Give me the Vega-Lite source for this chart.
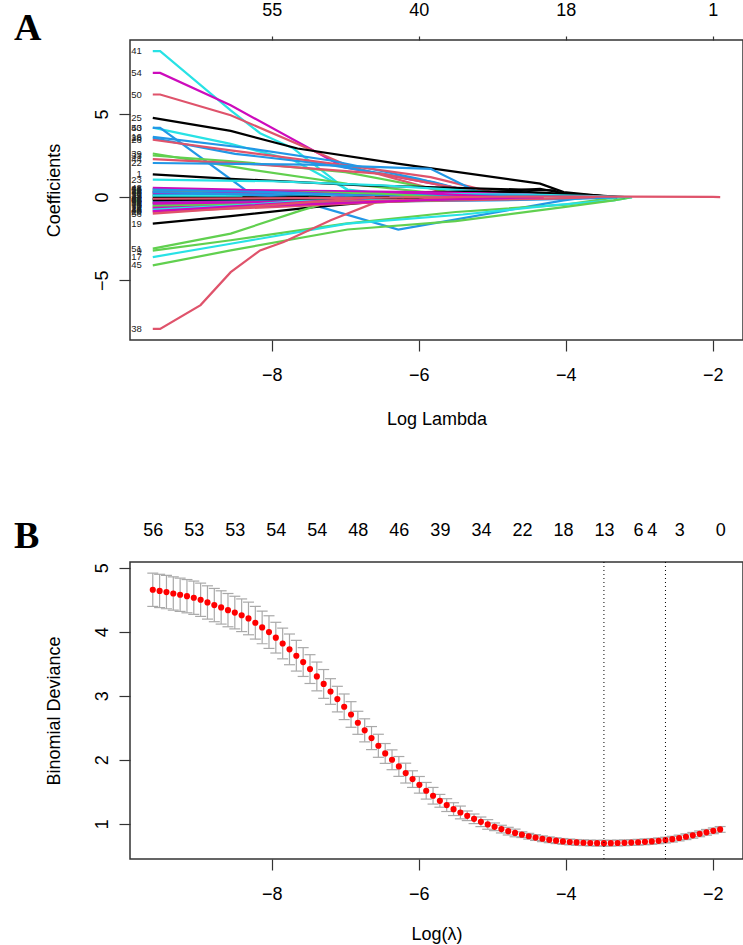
{
  "$schema": "https://vega.github.io/schema/vega-lite/v6.json",
  "background": "white",
  "padding": {"left": 13, "top": 0, "right": 0, "bottom": 0},
  "bounds": "flush",
  "spacing": 222,
  "config": {
    "font": "Liberation Sans",
    "view": {"stroke": "#333333", "strokeWidth": 1.5},
    "axis": {
      "grid": false, "domain": false,
      "tickColor": "#333333", "tickWidth": 1.2,
      "labelFont": "Liberation Sans", "labelFontSize": 18, "labelColor": "#000000",
      "titleFont": "Liberation Sans", "titleFontSize": 18, "titleFontWeight": "normal", "titleColor": "#000000",
      "labelOverlap": false, "labelFlush": false, "labelBound": false
    },
    "title": {"font": "Liberation Serif", "fontSize": 38, "fontWeight": "bold", "color": "#000000", "anchor": "start", "frame": "group"}
  },
  "vconcat": [
    {
      "width": 613,
      "height": 300,
      "title": {"text": "A", "dx": -116, "offset": -47},
      "data": {"values": [
        {"v":41,"x":-9.62,"c":8.78},{"v":41,"x":-9.52,"c":8.78},{"v":41,"x":-8.56,"c":5.22},{"v":41,"x":-8.16,"c":3.84},{"v":41,"x":-7.71,"c":2.93},{"v":41,"x":-6.97,"c":0.4},{"v":41,"x":-6.4,"c":0.15},{"v":41,"x":-5.6,"c":0},
        {"v":54,"x":-9.62,"c":7.47},{"v":54,"x":-9.52,"c":7.47},{"v":54,"x":-8.56,"c":5.52},{"v":54,"x":-7.02,"c":1.79},{"v":54,"x":-5.16,"c":0.28},{"v":54,"x":-4.9,"c":0},
        {"v":50,"x":-9.62,"c":6.17},{"v":50,"x":-9.52,"c":6.17},{"v":50,"x":-8.56,"c":4.92},{"v":50,"x":-6.97,"c":1.9},{"v":50,"x":-5.75,"c":0.4},{"v":50,"x":-5.3,"c":0},
        {"v":25,"x":-9.62,"c":4.76},{"v":25,"x":-8.56,"c":3.98},{"v":25,"x":-7.65,"c":2.92},{"v":25,"x":-6.29,"c":2.01},{"v":25,"x":-4.35,"c":0.81},{"v":25,"x":-4.03,"c":0.3},{"v":25,"x":-3.35,"c":0},
        {"v":53,"x":-9.62,"c":4.18},{"v":53,"x":-8.56,"c":3.2},{"v":53,"x":-7.7,"c":2.2},{"v":53,"x":-6.97,"c":0.45},{"v":53,"x":-6.3,"c":0.12},{"v":53,"x":-5.8,"c":0},
        {"v":40,"x":-9.62,"c":4.16},{"v":40,"x":-9.52,"c":4.16},{"v":40,"x":-8.29,"c":0.2},{"v":40,"x":-7.65,"c":-0.2},{"v":40,"x":-6.28,"c":-1.96},{"v":40,"x":-4.03,"c":-0.2},{"v":40,"x":-3.7,"c":0},
        {"v":16,"x":-9.62,"c":3.62},{"v":16,"x":-8.29,"c":2.92},{"v":16,"x":-7.2,"c":2.2},{"v":16,"x":-6.0,"c":1.1},{"v":16,"x":-5.3,"c":0.3},{"v":16,"x":-5.0,"c":0},
        {"v":28,"x":-9.62,"c":3.55},{"v":28,"x":-8.5,"c":2.6},{"v":28,"x":-7.3,"c":2.0},{"v":28,"x":-5.8,"c":0.9},{"v":28,"x":-5.2,"c":0.2},{"v":28,"x":-4.9,"c":0},
        {"v":26,"x":-9.62,"c":3.45},{"v":26,"x":-8.56,"c":2.81},{"v":26,"x":-6.97,"c":1.9},{"v":26,"x":-5.84,"c":1.2},{"v":26,"x":-5.0,"c":0.3},{"v":26,"x":-4.6,"c":0},
        {"v":39,"x":-9.62,"c":2.62},{"v":39,"x":-8.29,"c":1.65},{"v":39,"x":-6.97,"c":0.8},{"v":39,"x":-5.5,"c":0.1},{"v":39,"x":-5.2,"c":0},
        {"v":33,"x":-9.62,"c":2.5},{"v":33,"x":-8.4,"c":2.1},{"v":33,"x":-7.0,"c":1.5},{"v":33,"x":-5.8,"c":0.5},{"v":33,"x":-5.3,"c":0},
        {"v":44,"x":-9.62,"c":2.28},{"v":44,"x":-8.3,"c":2.0},{"v":44,"x":-6.5,"c":1.4},{"v":44,"x":-5.2,"c":0.3},{"v":44,"x":-4.8,"c":0},
        {"v":22,"x":-9.62,"c":2.05},{"v":22,"x":-7.5,"c":1.95},{"v":22,"x":-5.84,"c":1.7},{"v":22,"x":-5.2,"c":0.3},{"v":22,"x":-4.9,"c":0},
        {"v":1,"x":-9.62,"c":1.37},{"v":1,"x":-8.56,"c":1.1},{"v":1,"x":-6.75,"c":0.7},{"v":1,"x":-4.6,"c":0.45},{"v":1,"x":-4.17,"c":0.4},{"v":1,"x":-4.0,"c":0.1},{"v":1,"x":-3.8,"c":0},
        {"v":23,"x":-9.62,"c":1.05},{"v":23,"x":-8.0,"c":0.95},{"v":23,"x":-6.5,"c":0.7},{"v":23,"x":-5.0,"c":0.3},{"v":23,"x":-4.4,"c":0},
        {"v":19,"x":-9.62,"c":-1.6},{"v":19,"x":-8.56,"c":-1.15},{"v":19,"x":-7.43,"c":-0.6},{"v":19,"x":-6.5,"c":-0.25},{"v":19,"x":-5.5,"c":0},
        {"v":51,"x":-9.62,"c":-3.1},{"v":51,"x":-8.56,"c":-2.2},{"v":51,"x":-7.6,"c":-0.8},{"v":51,"x":-6.97,"c":0},
        {"v":9,"x":-9.62,"c":-3.22},{"v":9,"x":-8.56,"c":-2.6},{"v":9,"x":-7.0,"c":-1.6},{"v":9,"x":-5.5,"c":-0.9},{"v":9,"x":-4.0,"c":-0.45},{"v":9,"x":-3.3,"c":0},
        {"v":17,"x":-9.62,"c":-3.61},{"v":17,"x":-8.56,"c":-2.81},{"v":17,"x":-6.97,"c":-1.6},{"v":17,"x":-5.4,"c":-1.05},{"v":17,"x":-4.2,"c":-0.5},{"v":17,"x":-3.35,"c":-0.2},{"v":17,"x":-3.1,"c":0},
        {"v":45,"x":-9.62,"c":-4.11},{"v":45,"x":-8.56,"c":-3.21},{"v":45,"x":-6.97,"c":-1.95},{"v":45,"x":-5.5,"c":-1.45},{"v":45,"x":-4.03,"c":-0.6},{"v":45,"x":-3.35,"c":-0.2},{"v":45,"x":-3.1,"c":0},
        {"v":38,"x":-9.62,"c":-7.93},{"v":38,"x":-9.52,"c":-7.93},{"v":38,"x":-8.97,"c":-6.5},{"v":38,"x":-8.56,"c":-4.52},{"v":38,"x":-8.16,"c":-3.21},{"v":38,"x":-7.84,"c":-2.71},{"v":38,"x":-7.2,"c":-1.4},{"v":38,"x":-6.52,"c":-0.2},{"v":38,"x":-5.75,"c":0.3},{"v":38,"x":-5.0,"c":0.1},{"v":38,"x":-4.6,"c":0},
        {"v":7,"x":-9.62,"c":0.3},{"v":7,"x":-6.5,"c":0.25},{"v":7,"x":-5.4,"c":0.1},{"v":7,"x":-4.7,"c":0.4},{"v":7,"x":-4.35,"c":0.5},{"v":7,"x":-4.0,"c":0.2},{"v":7,"x":-3.3,"c":0},
        {"v":13,"x":-9.62,"c":0.05},{"v":13,"x":-7.5,"c":0.1},{"v":13,"x":-5.5,"c":0.15},{"v":13,"x":-4.5,"c":0.3},{"v":13,"x":-3.6,"c":0.1},{"v":13,"x":-3.2,"c":0},
        {"v":31,"x":-9.62,"c":-0.35},{"v":31,"x":-8,"c":-0.2},{"v":31,"x":-6,"c":-0.1},{"v":31,"x":-4.5,"c":0.1},{"v":31,"x":-3.9,"c":0.15},{"v":31,"x":-3.3,"c":0},
        {"v":37,"x":-9.62,"c":0.15},{"v":37,"x":-8,"c":0.2},{"v":37,"x":-6,"c":0.3},{"v":37,"x":-4.8,"c":0.35},{"v":37,"x":-4.2,"c":0.2},{"v":37,"x":-3.4,"c":0},
        {"v":6,"x":-9.62,"c":0.45},{"v":6,"x":-8,"c":0.4},{"v":6,"x":-6,"c":0.3},{"v":6,"x":-4.5,"c":0.15},{"v":6,"x":-3.9,"c":0},
        {"v":12,"x":-9.62,"c":0.35},{"v":12,"x":-7.5,"c":0.3},{"v":12,"x":-5.5,"c":0.25},{"v":12,"x":-4.3,"c":0.1},{"v":12,"x":-3.8,"c":0},
        {"v":5,"x":-9.62,"c":-0.25},{"v":5,"x":-7,"c":-0.2},{"v":5,"x":-5,"c":-0.15},{"v":5,"x":-3.6,"c":-0.05},{"v":5,"x":-3.2,"c":0},
        {"v":11,"x":-9.62,"c":0.1},{"v":11,"x":-6.5,"c":0.2},{"v":11,"x":-4.5,"c":0.15},{"v":11,"x":-3.5,"c":0.05},{"v":11,"x":-3.1,"c":0},
        {"v":10,"x":-9.62,"c":-0.45},{"v":10,"x":-7.5,"c":-0.3},{"v":10,"x":-5,"c":-0.2},{"v":10,"x":-3.8,"c":-0.1},{"v":10,"x":-3.3,"c":0},
        {"v":4,"x":-9.62,"c":0.2},{"v":4,"x":-7,"c":0.15},{"v":4,"x":-5,"c":0.1},{"v":4,"x":-3.9,"c":0.05},{"v":4,"x":-3.5,"c":0},
        {"v":2,"x":-9.62,"c":-0.6},{"v":2,"x":-7.5,"c":-0.35},{"v":2,"x":-5.5,"c":-0.2},{"v":2,"x":-4.2,"c":-0.1},{"v":2,"x":-3.6,"c":0},
        {"v":3,"x":-9.62,"c":-0.5},{"v":3,"x":-7.5,"c":-0.35},{"v":3,"x":-6,"c":-0.2},{"v":3,"x":-5.2,"c":0},
        {"v":8,"x":-9.62,"c":-0.8},{"v":8,"x":-8,"c":-0.5},{"v":8,"x":-6.5,"c":-0.3},{"v":8,"x":-5.0,"c":0},
        {"v":14,"x":-9.62,"c":-0.7},{"v":14,"x":-8,"c":-0.4},{"v":14,"x":-6,"c":-0.15},{"v":14,"x":-5.6,"c":0},
        {"v":15,"x":-9.62,"c":-0.55},{"v":15,"x":-8,"c":-0.45},{"v":15,"x":-6.5,"c":-0.3},{"v":15,"x":-4.6,"c":0},
        {"v":18,"x":-9.62,"c":0.25},{"v":18,"x":-8,"c":0.3},{"v":18,"x":-6,"c":0.25},{"v":18,"x":-4.9,"c":0},
        {"v":20,"x":-9.62,"c":-0.9},{"v":20,"x":-8,"c":-0.6},{"v":20,"x":-6,"c":-0.2},{"v":20,"x":-5.3,"c":0},
        {"v":21,"x":-9.62,"c":0.4},{"v":21,"x":-8,"c":0.35},{"v":21,"x":-6.5,"c":0.2},{"v":21,"x":-5.7,"c":0},
        {"v":24,"x":-9.62,"c":-0.65},{"v":24,"x":-8,"c":-0.5},{"v":24,"x":-6,"c":-0.2},{"v":24,"x":-4.3,"c":0},
        {"v":27,"x":-9.62,"c":-0.15},{"v":27,"x":-8.6,"c":-0.1},{"v":27,"x":-7.4,"c":0},
        {"v":29,"x":-9.62,"c":0.05},{"v":29,"x":-8.9,"c":0.02},{"v":29,"x":-8.4,"c":0},
        {"v":30,"x":-9.62,"c":-0.3},{"v":30,"x":-8.5,"c":-0.2},{"v":30,"x":-7.6,"c":0},
        {"v":34,"x":-9.62,"c":0.3},{"v":34,"x":-8.5,"c":0.2},{"v":34,"x":-7.8,"c":0},
        {"v":35,"x":-9.62,"c":0.5},{"v":35,"x":-8.2,"c":0.35},{"v":35,"x":-6.6,"c":0},
        {"v":36,"x":-9.62,"c":-0.4},{"v":36,"x":-8.2,"c":-0.3},{"v":36,"x":-7,"c":0},
        {"v":42,"x":-9.62,"c":0.55},{"v":42,"x":-8.5,"c":0.45},{"v":42,"x":-6.3,"c":0},
        {"v":43,"x":-9.62,"c":-0.05},{"v":43,"x":-8,"c":-0.05},{"v":43,"x":-7.2,"c":0},
        {"v":46,"x":-9.62,"c":-0.2},{"v":46,"x":-8,"c":-0.15},{"v":46,"x":-6.8,"c":0},
        {"v":47,"x":-9.62,"c":-0.75},{"v":47,"x":-8.3,"c":-0.45},{"v":47,"x":-6.9,"c":0},
        {"v":48,"x":-9.62,"c":-0.85},{"v":48,"x":-8.3,"c":-0.5},{"v":48,"x":-6.5,"c":0},
        {"v":49,"x":-9.62,"c":-0.1},{"v":49,"x":-8.5,"c":-0.1},{"v":49,"x":-7.5,"c":0},
        {"v":52,"x":-9.62,"c":0.45},{"v":52,"x":-8,"c":0.3},{"v":52,"x":-6.2,"c":0},
        {"v":55,"x":-9.62,"c":-0.18},{"v":55,"x":-8,"c":-0.12},{"v":55,"x":-6.4,"c":0},
        {"v":56,"x":-9.62,"c":-1.0},{"v":56,"x":-8.5,"c":-0.65},{"v":56,"x":-6.6,"c":0},
        {"v":32,"x":-9.62,"c":-0.1},{"v":32,"x":-7,"c":-0.05},{"v":32,"x":-5,"c":0.02},{"v":32,"x":-3.2,"c":0.03},{"v":32,"x":-2.0,"c":0.01},{"v":32,"x":-1.9,"c":0}
      ]},
      "layer": [
        {
          "mark": {"type": "line", "strokeWidth": 2.2},
          "encoding": {
            "x": {"field": "x", "type": "quantitative",
                  "scale": {"domain": [-9.93, -1.59], "nice": false, "zero": false},
                  "axis": {"orient": "bottom", "values": [-8, -6, -4, -2], "title": "Log Lambda", "tickSize": 11, "labelPadding": 15, "titleY": 70}},
            "y": {"field": "c", "type": "quantitative",
                  "scale": {"domain": [-8.6, 9.45], "nice": false, "zero": false},
                  "axis": {"values": [-5, 0, 5], "format": ".0f", "title": "Coefficients", "tickSize": 11, "labelAngle": -90, "labelAlign": "center", "labelBaseline": "bottom", "labelPadding": 8, "titleX": -67}},
            "color": {"field": "v", "type": "ordinal", "legend": null,
                      "scale": {
                        "domain": [1,2,3,4,5,6,7,8,9,10,11,12,13,14,15,16,17,18,19,20,21,22,23,24,25,26,27,28,29,30,31,32,33,34,35,36,37,38,39,40,41,42,43,44,45,46,47,48,49,50,51,52,53,54,55,56],
                        "range": ["#000000","#DF536B","#61D04F","#2297E6","#28E2E5","#CD0BBC","#000000","#DF536B","#61D04F","#2297E6","#28E2E5","#CD0BBC","#000000","#DF536B","#61D04F","#2297E6","#28E2E5","#CD0BBC","#000000","#DF536B","#61D04F","#2297E6","#28E2E5","#CD0BBC","#000000","#DF536B","#61D04F","#2297E6","#28E2E5","#CD0BBC","#000000","#DF536B","#61D04F","#2297E6","#28E2E5","#CD0BBC","#000000","#DF536B","#61D04F","#2297E6","#28E2E5","#CD0BBC","#000000","#DF536B","#61D04F","#2297E6","#28E2E5","#CD0BBC","#000000","#DF536B","#61D04F","#2297E6","#28E2E5","#CD0BBC","#000000","#DF536B"]
                      }}
          }
        },
        {
          "transform": [{"filter": "datum.x === -9.62"}],
          "mark": {"type": "text", "align": "right", "baseline": "middle", "dx": -11, "fontSize": 9.5, "font": "Liberation Sans", "color": "#222222"},
          "encoding": {
            "x": {"field": "x", "type": "quantitative",
                  "axis": {"orient": "top", "values": [-8, -6, -4, -2], "title": null, "tickSize": 4, "labelPadding": 17,
                           "labelExpr": "datum.value == -8 ? '55' : datum.value == -6 ? '40' : datum.value == -4 ? '18' : '1'"}},
            "y": {"field": "c", "type": "quantitative"},
            "text": {"field": "v"}
          }
        }
      ],
      "resolve": {"axis": {"x": "independent"}}
    },
    {
      "width": 613,
      "height": 297,
      "title": {"text": "B", "dx": -116, "offset": -35},
      "data": {"values": [
        {"x":-9.620,"m":4.656,"lo":4.396,"hi":4.916},
        {"x":-9.527,"m":4.638,"lo":4.378,"hi":4.898},
        {"x":-9.434,"m":4.620,"lo":4.360,"hi":4.880},
        {"x":-9.341,"m":4.598,"lo":4.338,"hi":4.858},
        {"x":-9.248,"m":4.578,"lo":4.318,"hi":4.838},
        {"x":-9.155,"m":4.556,"lo":4.296,"hi":4.816},
        {"x":-9.062,"m":4.532,"lo":4.272,"hi":4.792},
        {"x":-8.969,"m":4.500,"lo":4.240,"hi":4.760},
        {"x":-8.876,"m":4.458,"lo":4.198,"hi":4.718},
        {"x":-8.783,"m":4.417,"lo":4.157,"hi":4.677},
        {"x":-8.690,"m":4.380,"lo":4.120,"hi":4.640},
        {"x":-8.597,"m":4.338,"lo":4.078,"hi":4.598},
        {"x":-8.504,"m":4.300,"lo":4.045,"hi":4.555},
        {"x":-8.411,"m":4.258,"lo":4.003,"hi":4.513},
        {"x":-8.318,"m":4.208,"lo":3.953,"hi":4.463},
        {"x":-8.225,"m":4.141,"lo":3.886,"hi":4.396},
        {"x":-8.132,"m":4.068,"lo":3.813,"hi":4.323},
        {"x":-8.039,"m":3.995,"lo":3.740,"hi":4.250},
        {"x":-7.946,"m":3.908,"lo":3.668,"hi":4.148},
        {"x":-7.853,"m":3.817,"lo":3.577,"hi":4.057},
        {"x":-7.760,"m":3.725,"lo":3.485,"hi":3.965},
        {"x":-7.667,"m":3.626,"lo":3.386,"hi":3.866},
        {"x":-7.574,"m":3.527,"lo":3.302,"hi":3.752},
        {"x":-7.481,"m":3.417,"lo":3.192,"hi":3.642},
        {"x":-7.388,"m":3.302,"lo":3.077,"hi":3.527},
        {"x":-7.295,"m":3.185,"lo":2.960,"hi":3.410},
        {"x":-7.202,"m":3.067,"lo":2.867,"hi":3.267},
        {"x":-7.109,"m":2.948,"lo":2.748,"hi":3.148},
        {"x":-7.016,"m":2.828,"lo":2.628,"hi":3.028},
        {"x":-6.923,"m":2.708,"lo":2.508,"hi":2.908},
        {"x":-6.830,"m":2.578,"lo":2.398,"hi":2.758},
        {"x":-6.737,"m":2.460,"lo":2.280,"hi":2.640},
        {"x":-6.644,"m":2.339,"lo":2.159,"hi":2.519},
        {"x":-6.551,"m":2.219,"lo":2.039,"hi":2.399},
        {"x":-6.458,"m":2.099,"lo":1.944,"hi":2.254},
        {"x":-6.365,"m":2.000,"lo":1.845,"hi":2.155},
        {"x":-6.272,"m":1.896,"lo":1.741,"hi":2.051},
        {"x":-6.179,"m":1.792,"lo":1.637,"hi":1.947},
        {"x":-6.086,"m":1.698,"lo":1.568,"hi":1.828},
        {"x":-5.993,"m":1.609,"lo":1.479,"hi":1.739},
        {"x":-5.900,"m":1.516,"lo":1.386,"hi":1.646},
        {"x":-5.807,"m":1.438,"lo":1.308,"hi":1.568},
        {"x":-5.714,"m":1.359,"lo":1.259,"hi":1.459},
        {"x":-5.621,"m":1.292,"lo":1.192,"hi":1.392},
        {"x":-5.528,"m":1.229,"lo":1.129,"hi":1.329},
        {"x":-5.435,"m":1.177,"lo":1.077,"hi":1.277},
        {"x":-5.342,"m":1.125,"lo":1.050,"hi":1.200},
        {"x":-5.249,"m":1.078,"lo":1.003,"hi":1.153},
        {"x":-5.156,"m":1.031,"lo":0.956,"hi":1.106},
        {"x":-5.063,"m":0.990,"lo":0.915,"hi":1.065},
        {"x":-4.970,"m":0.953,"lo":0.893,"hi":1.013},
        {"x":-4.877,"m":0.917,"lo":0.857,"hi":0.977},
        {"x":-4.784,"m":0.885,"lo":0.825,"hi":0.945},
        {"x":-4.691,"m":0.857,"lo":0.797,"hi":0.917},
        {"x":-4.598,"m":0.830,"lo":0.785,"hi":0.875},
        {"x":-4.505,"m":0.806,"lo":0.761,"hi":0.851},
        {"x":-4.412,"m":0.785,"lo":0.740,"hi":0.830},
        {"x":-4.319,"m":0.766,"lo":0.721,"hi":0.811},
        {"x":-4.226,"m":0.750,"lo":0.705,"hi":0.795},
        {"x":-4.133,"m":0.736,"lo":0.691,"hi":0.781},
        {"x":-4.040,"m":0.725,"lo":0.680,"hi":0.770},
        {"x":-3.947,"m":0.716,"lo":0.671,"hi":0.761},
        {"x":-3.854,"m":0.709,"lo":0.664,"hi":0.754},
        {"x":-3.761,"m":0.704,"lo":0.659,"hi":0.749},
        {"x":-3.668,"m":0.700,"lo":0.655,"hi":0.745},
        {"x":-3.575,"m":0.698,"lo":0.653,"hi":0.743},
        {"x":-3.482,"m":0.697,"lo":0.652,"hi":0.742},
        {"x":-3.389,"m":0.698,"lo":0.653,"hi":0.743},
        {"x":-3.296,"m":0.700,"lo":0.655,"hi":0.745},
        {"x":-3.203,"m":0.703,"lo":0.658,"hi":0.748},
        {"x":-3.110,"m":0.707,"lo":0.662,"hi":0.752},
        {"x":-3.017,"m":0.712,"lo":0.667,"hi":0.757},
        {"x":-2.924,"m":0.718,"lo":0.673,"hi":0.763},
        {"x":-2.831,"m":0.725,"lo":0.680,"hi":0.770},
        {"x":-2.738,"m":0.734,"lo":0.689,"hi":0.779},
        {"x":-2.645,"m":0.745,"lo":0.700,"hi":0.790},
        {"x":-2.552,"m":0.760,"lo":0.715,"hi":0.805},
        {"x":-2.459,"m":0.778,"lo":0.733,"hi":0.823},
        {"x":-2.366,"m":0.798,"lo":0.753,"hi":0.843},
        {"x":-2.273,"m":0.820,"lo":0.775,"hi":0.865},
        {"x":-2.180,"m":0.843,"lo":0.798,"hi":0.888},
        {"x":-2.087,"m":0.867,"lo":0.822,"hi":0.912},
        {"x":-1.994,"m":0.890,"lo":0.845,"hi":0.935},
        {"x":-1.901,"m":0.912,"lo":0.867,"hi":0.957}
      ]},
      "layer": [
        {
          "mark": {"type": "rule", "color": "#A9A9A9", "strokeWidth": 1.2},
          "encoding": {
            "x": {"field": "x", "type": "quantitative",
                  "scale": {"domain": [-9.93, -1.59], "nice": false, "zero": false},
                  "axis": {"orient": "bottom", "values": [-8, -6, -4, -2], "title": "Log(λ)", "tickSize": 11, "labelPadding": 15, "titleY": 66}},
            "y": {"field": "lo", "type": "quantitative",
                  "scale": {"domain": [0.45, 5.09], "nice": false, "zero": false},
                  "axis": {"values": [1, 2, 3, 4, 5], "format": ".0f", "title": "Binomial Deviance", "tickSize": 11, "labelAngle": -90, "labelAlign": "center", "labelBaseline": "bottom", "labelPadding": 8, "titleX": -67}},
            "y2": {"field": "hi"}
          }
        },
        {
          "mark": {"type": "tick", "orient": "horizontal", "size": 11, "thickness": 1.2, "color": "#A9A9A9", "opacity": 1},
          "encoding": {
            "x": {"field": "x", "type": "quantitative", "axis": null},
            "y": {"field": "hi", "type": "quantitative"}
          }
        },
        {
          "mark": {"type": "tick", "orient": "horizontal", "size": 11, "thickness": 1.2, "color": "#A9A9A9", "opacity": 1},
          "encoding": {
            "x": {"field": "x", "type": "quantitative", "axis": null},
            "y": {"field": "lo", "type": "quantitative"}
          }
        },
        {
          "mark": {"type": "point", "filled": true, "color": "#FF0000", "size": 38, "opacity": 1},
          "encoding": {
            "x": {"field": "x", "type": "quantitative",
                  "axis": {"orient": "top", "title": null, "tickSize": 0, "labelPadding": 23,
                           "values": [-9.62, -9.062, -8.504, -7.946, -7.388, -6.83, -6.272, -5.714, -5.156, -4.598, -4.04, -3.482, -3.017, -2.831, -2.459, -1.901],
                           "labelExpr": "datum.value < -9.3 ? '56' : datum.value < -8.8 ? '53' : datum.value < -8.2 ? '53' : datum.value < -7.7 ? '54' : datum.value < -7.1 ? '54' : datum.value < -6.5 ? '48' : datum.value < -6.0 ? '46' : datum.value < -5.4 ? '39' : datum.value < -4.9 ? '34' : datum.value < -4.3 ? '22' : datum.value < -3.8 ? '18' : datum.value < -3.25 ? '13' : datum.value < -2.92 ? '6' : datum.value < -2.65 ? '4' : datum.value < -2.2 ? '3' : '0'"}},
            "y": {"field": "m", "type": "quantitative"}
          }
        },
        {
          "data": {"values": [{"x": -3.482}, {"x": -2.645}]},
          "mark": {"type": "rule", "color": "#000000", "strokeWidth": 1, "strokeDash": [1, 3]},
          "encoding": {
            "x": {"field": "x", "type": "quantitative", "axis": null}
          }
        }
      ],
      "resolve": {"axis": {"x": "independent"}}
    }
  ]
}
